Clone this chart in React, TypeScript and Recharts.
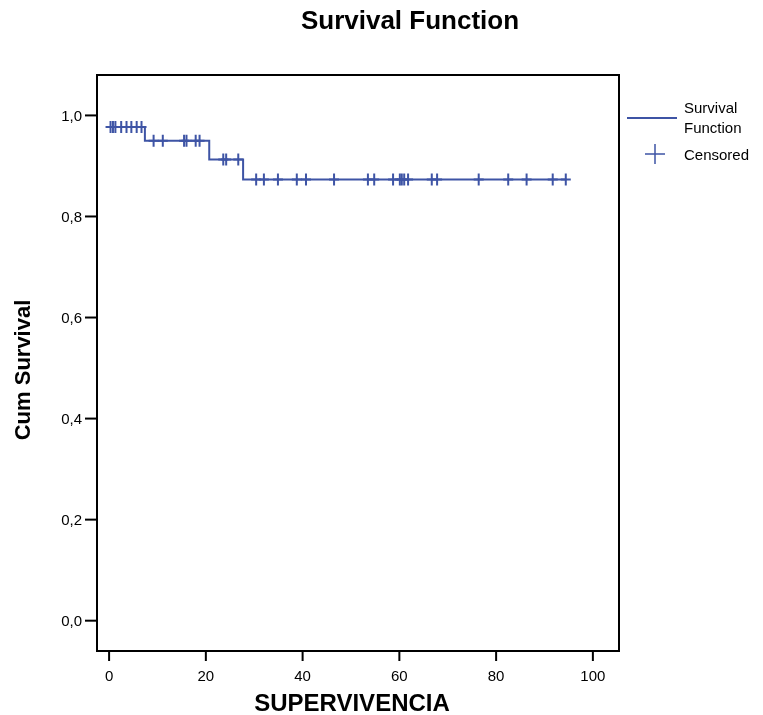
import React from "react";
import {
  ComposedChart,
  Line,
  Scatter,
  XAxis,
  YAxis,
  Label,
  ReferenceArea,
} from "recharts";

// step points of the survival function (time, cum survival)
const stepTimes = [0, 7.4, 20.7, 27.7, 94.5];
const stepSurvival = [0.977, 0.95, 0.913, 0.873, 0.873];

// censored observations
const censoredTimes = [
  0.3, 0.8, 1.3, 2.5, 3.6, 4.6, 5.7, 6.7,
  9.2, 11.1, 15.5, 16.0, 17.9, 18.7,
  23.6, 24.2, 26.7,
  30.4, 32.0, 34.9, 38.8, 40.7, 46.5, 53.5, 54.8, 58.7, 60.1, 60.5, 61.0, 61.8,
  66.7, 67.8, 76.4, 82.5, 86.3, 91.7, 94.4,
];

const xTicks = [0, 20, 40, 60, 80, 100];
const yTicks = [0, 0.2, 0.4, 0.6, 0.8, 1.0];

const X_DOMAIN = [-2.5, 105.4];
const Y_DOMAIN = [-0.06, 1.08];

const BLUE = "#3e54a5";
const FONT = "'Liberation Sans', Arial, sans-serif";

function survivalAt(t: number) {
  let s = stepSurvival[0];
  for (let i = 0; i < stepTimes.length; i++) {
    if (t >= stepTimes[i]) s = stepSurvival[i];
  }
  return s;
}

const stepData = stepTimes.map((t, i) => ({ t, s: stepSurvival[i] }));
const censoredData = censoredTimes.map((t) => ({ t, s: survivalAt(t) }));

const Cross = (props: any) => {
  const { cx, cy } = props;
  return (
    <path
      d={`M${cx - 5},${cy}h10M${cx},${cy - 6}v12`}
      stroke={BLUE}
      strokeWidth={2}
      fill="none"
    />
  );
};

const YTitle = (props: any) => {
  const vb = props.viewBox || { x: 0, y: 0, width: 0, height: 0 };
  const x = 30;
  const y = vb.y + vb.height / 2 + 7;
  return (
    <text
      x={x}
      y={y}
      transform={`rotate(-90, ${x}, ${y})`}
      textAnchor="middle"
      style={{ fontSize: 22, fontWeight: "bold", fill: "#000" }}
    >
      Cum Survival
    </text>
  );
};

export default function App() {
  return (
    <div style={{ position: "fixed", left: 0, top: 0, width: 763, height: 715, background: "#fff", fontFamily: FONT }}>
      <div
        style={{
          position: "absolute",
          left: 0,
          width: 820,
          top: 5,
          textAlign: "center",
          fontSize: 26,
          fontWeight: "bold",
        }}
      >
        Survival Function
      </div>
      <ComposedChart
        width={763}
        height={715}
        margin={{ top: 75, right: 144, bottom: 4, left: 37 }}
        style={{ fontFamily: FONT }}
      >
        <XAxis
          type="number"
          dataKey="t"
          domain={X_DOMAIN}
          ticks={xTicks}
          height={60}
          tickSize={10}
          tickMargin={9}
          allowDataOverflow
          axisLine={{ stroke: "#000", strokeWidth: 2 }}
          tickLine={{ stroke: "#000", strokeWidth: 2 }}
          tick={{ fill: "#000", fontSize: 15 }}
        >
          <Label
            value="SUPERVIVENCIA"
            position="insideBottom"
            offset={0}
            dx={-6}
            style={{ fontSize: 24, fontWeight: "bold", fill: "#000" }}
          />
        </XAxis>
        <YAxis
          type="number"
          domain={Y_DOMAIN}
          ticks={yTicks}
          width={60}
          tickSize={12}
          tickMargin={3}
          allowDataOverflow
          tickFormatter={(v: number) => v.toFixed(1).replace(".", ",")}
          axisLine={{ stroke: "#000", strokeWidth: 2 }}
          tickLine={{ stroke: "#000", strokeWidth: 2 }}
          tick={{ fill: "#000", fontSize: 15 }}
        >
          <Label content={YTitle} />
        </YAxis>
        <ReferenceArea
          x1={X_DOMAIN[0]}
          x2={X_DOMAIN[1]}
          y1={Y_DOMAIN[0]}
          y2={Y_DOMAIN[1]}
          fill="none"
          fillOpacity={0}
          stroke="#000"
          strokeWidth={2}
          ifOverflow="visible"
        />
        <Line
          data={stepData}
          dataKey="s"
          type="stepAfter"
          stroke={BLUE}
          strokeWidth={2}
          dot={false}
          isAnimationActive={false}
        />
        <Scatter
          data={censoredData}
          dataKey="s"
          shape={Cross}
          isAnimationActive={false}
        />
      </ComposedChart>
      <div style={{ position: "absolute", left: 627, top: 98, fontSize: 15, color: "#000" }}>
        <div style={{ display: "flex", alignItems: "center" }}>
          <div style={{ width: 50, height: 2, background: BLUE, marginRight: 7 }} />
          <div style={{ lineHeight: "20px" }}>
            Survival
            <br />
            Function
          </div>
        </div>
        <div style={{ display: "flex", alignItems: "center", marginTop: 6 }}>
          <svg width={50} height={20} style={{ marginRight: 7 }}>
            <path d="M18,10h20M28,0v20" stroke={BLUE} strokeWidth={1.5} />
          </svg>
          <div>Censored</div>
        </div>
      </div>
    </div>
  );
}
